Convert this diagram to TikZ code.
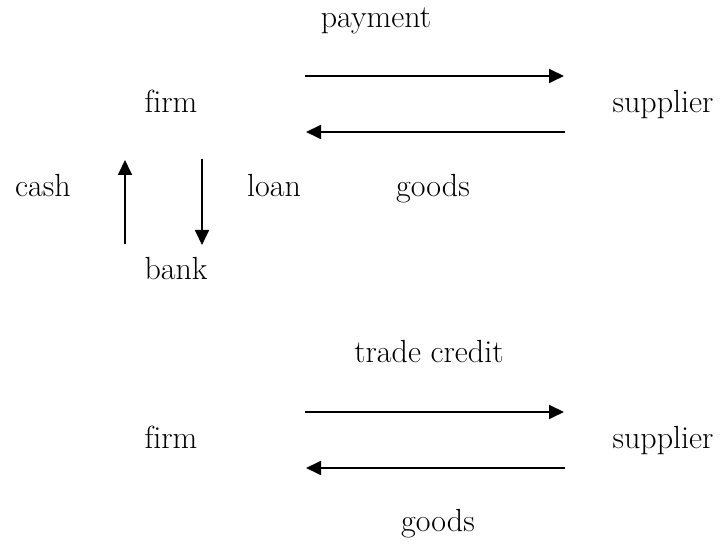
\documentclass[tikz,border=0pt]{standalone}
\usetikzlibrary{arrows.meta}
\begin{document}
\begin{tikzpicture}[x=0.5pt,y=-0.5pt,
  lbl/.style={font=\fontsize{16}{19}\selectfont, inner sep=0pt, anchor=base},
  flow/.style={line width=0.9pt, -{Triangle[length=7.5pt,width=7pt]}}]
\useasboundingbox (0,0) rectangle (725,544);
% upper part
\node[lbl] (payment) at (376,28) {payment};
\node[lbl] (firm1) at (171,113) {f\kern0pt irm};
\node[lbl] (supp1) at (663,113) {supplier};
\node[lbl] (goods1) at (433,197) {goods};
\node[lbl] (cash) at (43,197) {cash};
\node[lbl] (loan) at (274,197) {loan};
\node[lbl] (bank) at (176,280) {bank};
\coordinate (pa) at (305,76);
\coordinate (pb) at (564,76);
\coordinate (ga) at (565,132);
\coordinate (gb) at (306,132);
\coordinate (ca) at (125,244);
\coordinate (cb) at (125,160);
\coordinate (la) at (202,159);
\coordinate (lb) at (202,245);
\draw[flow] (pa) -- (pb);
\draw[flow] (ga) -- (gb);
\draw[flow] (ca) -- (cb);
\draw[flow] (la) -- (lb);
% lower part
\node[lbl] (trade) at (429,363) {trade credit};
\node[lbl] (firm2) at (171,449) {f\kern0pt irm};
\node[lbl] (supp2) at (663,449) {supplier};
\node[lbl] (goods2) at (438,532) {goods};
\coordinate (ta) at (305,412);
\coordinate (tb) at (564,412);
\coordinate (qa) at (565,468);
\coordinate (qb) at (306,468);
\draw[flow] (ta) -- (tb);
\draw[flow] (qa) -- (qb);
\end{tikzpicture}
\end{document}
